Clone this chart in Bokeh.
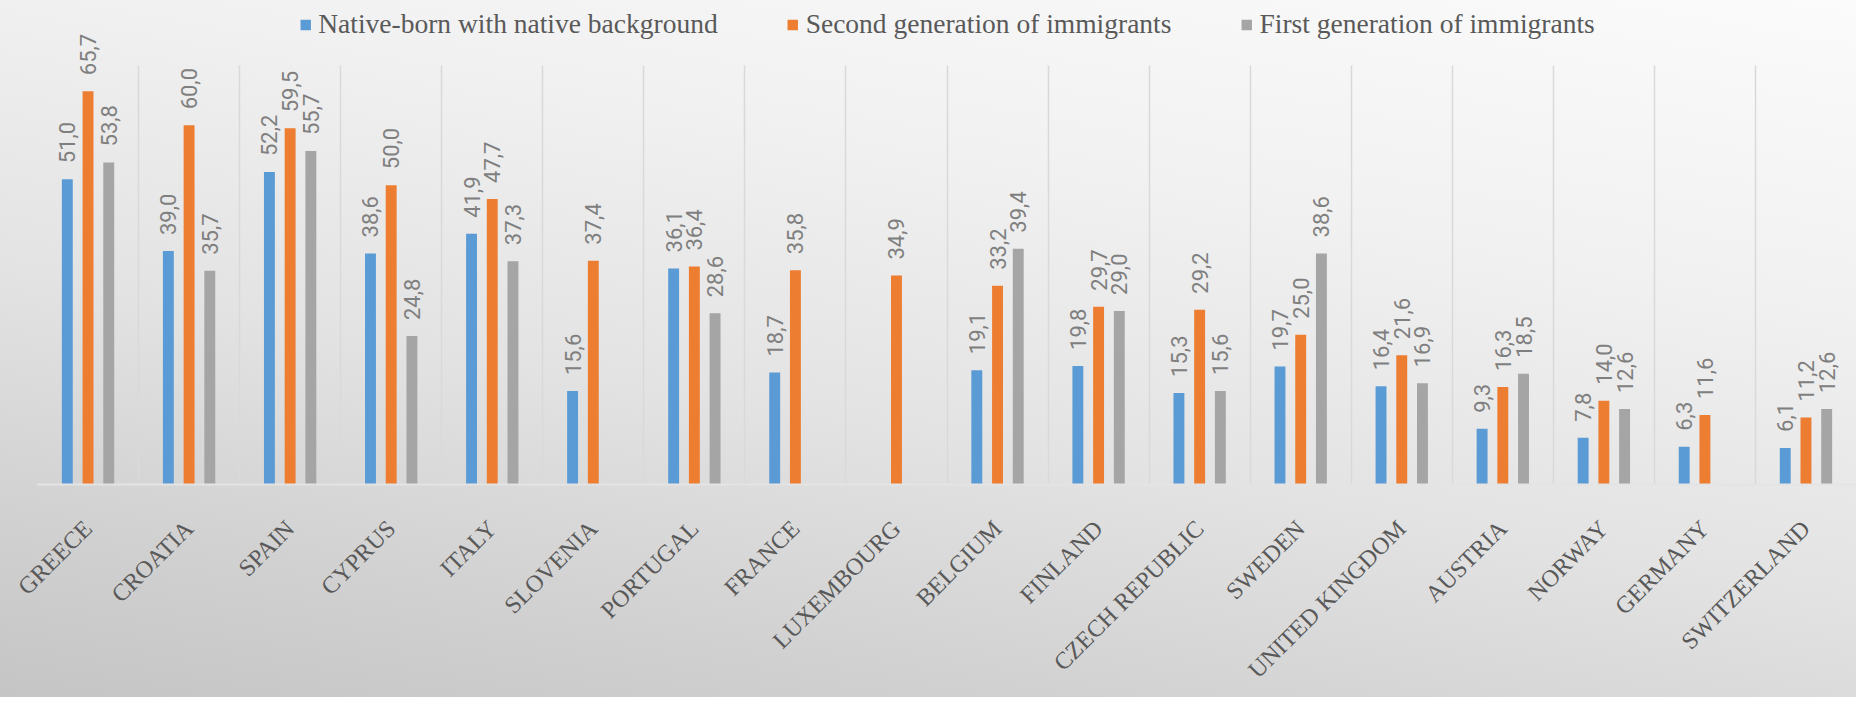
import math
from bokeh.plotting import figure
from bokeh.models import ColumnDataSource, Range1d, FixedTicker, Legend, LegendItem
from bokeh.transform import dodge
from bokeh.core.properties import value
from bokeh.embed import file_html
from bokeh.resources import INLINE

countries = ["GREECE", "CROATIA", "SPAIN", "CYPRUS", "ITALY", "SLOVENIA", "PORTUGAL",
             "FRANCE", "LUXEMBOURG", "BELGIUM", "FINLAND", "CZECH REPUBLIC", "SWEDEN",
             "UNITED KINGDOM", "AUSTRIA", "NORWAY", "GERMANY", "SWITZERLAND"]
native_bg = [51.0, 39.0, 52.2, 38.6, 41.9, 15.6, 36.1, 18.7, None, 19.1, 19.8, 15.3,
             19.7, 16.4, 9.3, 7.8, 6.3, 6.1]
second_gen = [65.7, 60.0, 59.5, 50.0, 47.7, 37.4, 36.4, 35.8, 34.9, 33.2, 29.7, 29.2,
              25.0, 21.6, 16.3, 14.0, 11.6, 11.2]
first_gen = [53.8, 35.7, 55.7, 24.8, 37.3, None, 28.6, None, None, 39.4, 29.0, 15.6,
             38.6, 16.9, 18.5, 12.6, None, 12.6]
series_names = ["Native-born with native background", "Second generation of immigrants",
                "First generation of immigrants"]
series_values = [native_bg, second_gen, first_gen]
series_colors = ["#5b9bd5", "#ed7d31", "#a5a5a5"]
offsets = [-0.205, 0.0, 0.205]

n = len(countries)
centers = [i + 0.5 for i in range(n)]
Y_MAX = 70

W, H = 1856, 697
FRAME_H = 484
p = figure(width=W, height=H, x_range=Range1d(0, n),
           y_range=Range1d(0, Y_MAX * FRAME_H / 419.0),
           output_backend="svg", toolbar_location=None, y_axis_location=None,
           min_border_left=37, min_border_right=0, min_border_top=0,
           min_border_bottom=H - FRAME_H)
p.background_fill_alpha = 0
p.border_fill_alpha = 0
p.outline_line_color = None
p.styles = {"background-image": "linear-gradient(190deg, #fbfbfb 0%, #f1f1f1 30%, #e3e3e3 58%, #d1d1d1 82%, #c5c5c5 100%)"}

p.ygrid.visible = False
p.xgrid.ticker = FixedTicker(ticks=list(range(n + 1)))
p.xgrid.grid_line_color = "#d9d9d9"
p.xgrid.grid_line_width = 1.5
p.xgrid.cross_bounds = (0, Y_MAX)

ax = p.xaxis[0]
ax.ticker = FixedTicker(ticks=centers)
ax.major_label_overrides = {c: name for c, name in zip(centers, countries)}
ax.major_label_orientation = math.pi / 4
ax.major_label_text_font = "Liberation Serif"
ax.major_label_text_font_size = "24px"
ax.major_label_text_color = "#595959"
ax.major_label_standoff = 34
ax.major_tick_line_color = None
ax.minor_tick_line_color = None
ax.axis_line_color = "#e4e4e4"
ax.axis_line_width = 2

items = []
for name, vals, color, off in zip(series_names, series_values, series_colors, offsets):
    xs = [c for c, v in zip(centers, vals) if v is not None]
    ys = [v for v in vals if v is not None]
    labels = [f"{v:.1f}".replace(".", ",") for v in ys]
    src = ColumnDataSource(dict(x=xs, y=ys, label=labels))
    r = p.vbar(x=dodge("x", off, range=p.x_range), top="y", width=0.108, bottom=0,
               source=src, fill_color=color, line_color=None)
    p.text(x=dodge("x", off, range=p.x_range), y="y", text="label", source=src,
           angle=math.pi / 2, text_align="left", text_baseline="middle",
           y_offset=-16, text_font=value("Roboto"), text_font_size="22px",
           text_color="#7f7f7f")
    items.append(LegendItem(label=name, renderers=[r]))

legend = Legend(items=items, location="top_center", orientation="horizontal",
                glyph_width=13, glyph_height=13, label_standoff=7, spacing=68,
                padding=2, margin=8, background_fill_alpha=0, border_line_color=None,
                label_text_font="Liberation Serif", label_text_font_size="27.5px",
                label_text_color="#595959")
p.add_layout(legend)

open("out.html", "w").write(file_html(p, INLINE))
